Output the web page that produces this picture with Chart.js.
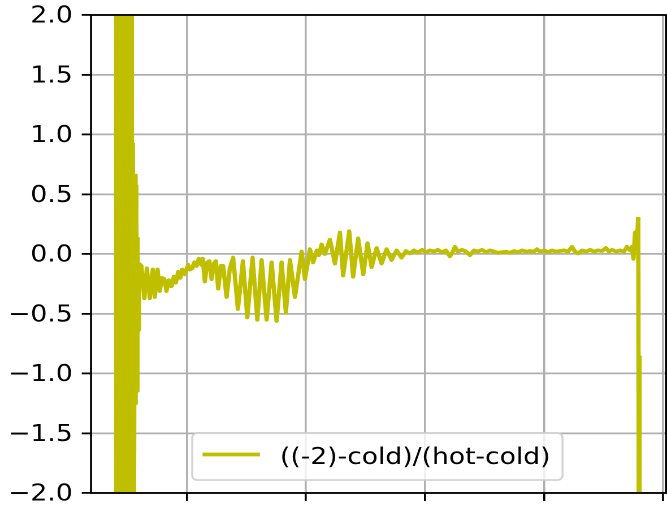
<!DOCTYPE html>
<html>
<head>
<meta charset="utf-8">
<script src="https://cdn.jsdelivr.net/npm/chart.js@4.4.1/dist/chart.umd.min.js"></script>
<style>
html,body{margin:0;padding:0;background:#fff;overflow:hidden;width:667px;height:508px}
#wrap{width:590px;height:508px;position:absolute;left:0;top:0;transform:scaleX(1.130508);transform-origin:0 0}
</style>
</head>
<body>
<div id="wrap"><canvas id="c" width="590" height="508"></canvas></div>
<script>
// ---- data ----
const seriesLabel = '((-2)-cold)/(hot-cold)';
const xTicks = [1, 2, 3, 4, 5];
const yTicks = [-2.0, -1.5, -1.0, -0.5, 0.0, 0.5, 1.0, 1.5, 2.0];
const xValues = [
  0.403,0.407,0.412,0.416,0.420,0.424,0.429,0.433,0.437,0.441,0.445,0.450,0.454,0.458,0.462,0.466,0.471,
  0.475,0.479,0.483,0.487,0.492,0.496,0.500,0.504,0.508,0.513,0.517,0.521,0.525,0.529,0.534,0.538,
  0.546,0.555,0.563,0.569,0.575,0.580,0.585,0.591,0.598,
  0.618,0.643,0.664,0.689,0.714,0.731,0.754,0.773,0.790,0.811,0.829,0.849,0.871,0.891,0.908,0.927,0.945,0.962,0.983,
  1.011,1.025,1.045,1.063,1.082,1.101,1.122,1.134,1.151,1.172,1.189,1.208,1.227,1.244,1.263,1.286,1.305,1.334,1.361,1.389,
  1.429,1.471,1.508,1.552,1.592,1.628,1.670,1.712,1.754,1.796,1.832,1.866,1.908,1.964,1.992,
  2.034,2.061,2.092,2.109,2.132,2.160,2.202,2.244,2.286,2.313,2.364,2.397,2.439,2.482,2.518,2.552,2.594,2.636,2.678,2.720,2.762,2.804,
  2.840,2.874,2.908,2.941,2.975,3.008,3.042,3.076,3.109,3.143,3.176,3.210,3.235,3.252,3.277,3.311,3.345,3.378,3.412,3.445,
  3.479,3.513,3.546,3.580,3.613,3.647,3.681,3.714,3.748,3.782,3.815,3.849,3.882,3.916,3.941,3.966,
  4.000,4.034,4.067,4.101,4.134,4.168,4.202,4.235,4.261,4.286,4.319,4.353,4.387,4.420,4.454,4.487,4.521,4.546,4.571,4.605,
  4.639,4.672,4.697,4.723,4.739,4.752,4.765,4.776,4.792,4.797,4.803
];
const yValues = [
  -2.6,2.6,-2.6,2.6,-2.6,2.6,-2.6,2.6,-2.6,2.6,-2.6,2.6,-2.6,2.6,-2.6,2.6,-2.6,
  2.6,-2.6,2.6,-2.6,2.6,-2.6,2.6,-2.6,2.6,-2.6,2.6,-2.6,2.6,-2.6,2.6,-2.6,
  0.93,-2.6,0.67,-1.26,0.58,-1.15,0.14,-0.64,-0.08,
  -0.10,-0.37,-0.12,-0.37,-0.13,-0.36,-0.13,-0.31,-0.20,-0.21,-0.31,-0.22,-0.27,-0.19,-0.24,-0.15,-0.20,-0.13,-0.17,
  -0.09,-0.13,-0.12,-0.07,-0.10,-0.04,-0.09,-0.04,-0.23,-0.07,-0.06,-0.21,-0.08,-0.06,-0.29,-0.10,-0.10,-0.36,-0.12,-0.03,
  -0.46,-0.06,-0.53,-0.03,-0.55,-0.05,-0.55,-0.07,-0.56,-0.07,-0.49,-0.05,-0.36,0.02,-0.21,
  0.04,-0.07,0.03,-0.01,0.08,0.00,0.12,-0.08,0.18,-0.18,0.19,-0.19,0.13,-0.17,0.09,-0.11,0.05,-0.08,0.04,-0.05,0.03,-0.03,
  0.025,0.005,0.03,0.01,0.035,0.015,0.03,0.02,0.035,0.015,0.03,-0.02,0.02,0.06,0.02,0.035,0.02,-0.01,0.03,0.02,
  0.035,0.015,0.03,0.02,0.01,0.015,0.02,0.01,0.025,0.015,0.03,0.02,0.025,0.02,0.04,0.02,
  0.03,0.015,0.03,0.02,0.025,0.03,0.02,0.06,0.02,0.005,0.03,0.02,0.035,0.02,0.03,0.025,0.05,0.02,0.035,0.02,
  0.03,0.02,0.06,0.03,0.06,-0.04,0.18,0.02,0.31,-2.6,-0.85
];

const LINE_COLOR = '#bfbf00';
const FONT = 'DejaVu Sans';
const FONT_SIZE = 23.5;
const SHARP_END = 41;                    // dense burst at the low end
const SHARP_START = xValues.length - 4;  // final drop

const framePlugin = {
  id: 'frame',
  afterDatasetsDraw(chart) {
    const {ctx, chartArea: a} = chart;
    ctx.save();
    ctx.strokeStyle = '#000';
    ctx.lineWidth = 1.8;
    ctx.lineJoin = 'miter';
    ctx.strokeRect(a.left, a.top, a.right - a.left, a.bottom - a.top);
    ctx.restore();
  }
};

const legendPlugin = {
  id: 'mplLegend',
  afterDraw(chart) {
    const {ctx, chartArea: a} = chart;
    const ds = chart.data.datasets[0];
    ctx.save();
    ctx.font = FONT_SIZE + 'px "' + FONT + '"';
    const tw = ctx.measureText(ds.label).width;
    const padL = 9.1, handle = 50.8, gap = 17.7, padR = 10.6;
    const w = padL + handle + gap + tw + padR;
    const h = 47;
    const cx = (a.left + a.right) / 2 - 1;
    const x0 = cx - w / 2, y0 = a.bottom - 13 - h;
    const r = 4.5;
    ctx.beginPath();
    ctx.moveTo(x0 + r, y0);
    ctx.arcTo(x0 + w, y0, x0 + w, y0 + h, r);
    ctx.arcTo(x0 + w, y0 + h, x0, y0 + h, r);
    ctx.arcTo(x0, y0 + h, x0, y0, r);
    ctx.arcTo(x0, y0, x0 + w, y0, r);
    ctx.closePath();
    ctx.fillStyle = 'rgba(255,255,255,0.8)';
    ctx.fill();
    ctx.strokeStyle = 'rgba(204,204,204,0.85)';
    ctx.lineWidth = 1.8;
    ctx.stroke();
    const ly = y0 + 21.5;
    ctx.beginPath();
    ctx.moveTo(x0 + padL, ly);
    ctx.lineTo(x0 + padL + handle, ly);
    ctx.strokeStyle = ds.borderColor;
    ctx.lineWidth = ds.borderWidth;
    ctx.lineCap = 'butt';
    ctx.stroke();
    ctx.fillStyle = '#000';
    ctx.textBaseline = 'alphabetic';
    ctx.textAlign = 'left';
    ctx.fillText(ds.label, x0 + padL + handle + gap, y0 + 31);
    ctx.restore();
  }
};

const fmt = v => (v < 0 ? '\u2212' : '') + Math.abs(v).toFixed(1);

// stroke each segment of the steep bursts on its own (alternating style splits the path)
const joinFor = c => {
  const i = c.p0DataIndex;
  if (i < SHARP_END || i >= SHARP_START) return (i % 2) ? 'miter' : 'bevel';
  return 'round';
};

new Chart(document.getElementById('c').getContext('2d'), {
  type: 'line',
  data: {
    datasets: [{
      label: seriesLabel,
      data: xValues.map((x, i) => ({x: x, y: yValues[i]})),
      borderColor: LINE_COLOR,
      backgroundColor: LINE_COLOR,
      borderWidth: 3.8,
      pointRadius: 0,
      tension: 0,
      fill: false,
      clip: 0,
      borderJoinStyle: 'round',
      borderCapStyle: 'butt',
      segment: {borderJoinStyle: joinFor}
    }]
  },
  options: {
    responsive: false,
    animation: false,
    devicePixelRatio: 2,
    events: [],
    layout: {padding: {top: 15, right: 0.9, left: 0, bottom: 0}},
    plugins: {legend: {display: false}, tooltip: {enabled: false}},
    scales: {
      x: {
        type: 'linear',
        min: 0.195,
        max: 5.025,
        afterBuildTicks: s => { s.ticks = xTicks.map(v => ({value: v})); },
        afterFit: s => { s.height = 15; s.paddingLeft = 0; s.paddingRight = 0; },
        ticks: {display: false, includeBounds: false},
        grid: {color: '#b0b0b0', lineWidth: 1.8, tickColor: '#000', tickLength: 8, tickWidth: 1.8, drawTicks: true},
        border: {display: false}
      },
      y: {
        type: 'linear',
        min: -2,
        max: 2,
        afterBuildTicks: s => { s.ticks = yTicks.map(v => ({value: v})); },
        afterFit: s => { s.width = 80.5; s.paddingTop = 0; s.paddingBottom = 0; },
        ticks: {
          callback: v => fmt(v),
          font: {family: FONT, size: FONT_SIZE},
          color: '#000',
          padding: 8,
          labelOffset: 1.5
        },
        grid: {color: '#b0b0b0', lineWidth: 1.8, tickColor: '#000', tickLength: 8.2, tickWidth: 1.8, drawTicks: true},
        border: {display: false}
      }
    }
  },
  plugins: [framePlugin, legendPlugin]
});
</script>
</body>
</html>
